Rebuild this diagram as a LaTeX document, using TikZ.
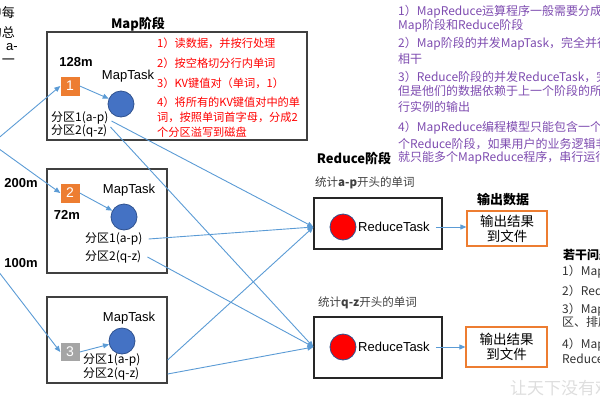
\documentclass[tikz,border=0pt]{standalone}
\usepackage{fontspec}
\setmainfont{Noto Sans CJK SC}
\newfontfamily\arial{Liberation Sans}
\usetikzlibrary{arrows.meta,calc}

\definecolor{arrowblue}{HTML}{5B9BD5}
\definecolor{taskblue}{HTML}{4472C4}
\definecolor{taskedge}{HTML}{2F528F}
\definecolor{boxorange}{HTML}{ED7D31}
\definecolor{boxgray}{HTML}{A5A5A5}
\definecolor{boxline}{HTML}{404040}
\definecolor{notepurple}{HTML}{7E4CB0}

\tikzset{
  stagebox/.style={draw=boxline, line width=1.2pt, inner sep=0},
  reducebox/.style={draw=black!85, line width=1.2pt, inner sep=0},
  tasknode/.style={circle, draw=taskedge, line width=0.8pt, fill=taskblue, minimum size=26, inner sep=0},
  reducenode/.style={tasknode, fill=red},
  splitnum/.style={fill=boxorange, text=white, minimum size=19, inner sep=0, font=\arial\fontsize{14}{14}\selectfont},
  outbox/.style={draw=boxorange, line width=1.2pt, fill=white, align=center, inner sep=0, font=\fontsize{13.5}{15}\selectfont},
  flow/.style={draw=arrowblue, line width=0.9pt, -{Triangle[length=6pt,width=5pt]}},
  tasklabel/.style={inner sep=0, font=\arial\fontsize{13}{13}\selectfont},
  partlabel/.style={anchor=west, inner sep=0, font=\fontsize{12}{12}\selectfont},
  sizelabel/.style={inner sep=0, font=\arial\bfseries\fontsize{13}{13}\selectfont},
  stagetitle/.style={inner sep=0, font=\bfseries\fontsize{13}{13}\selectfont},
  steptext/.style={anchor=west, inner sep=0, text=red, font=\fontsize{11.2}{11.2}\selectfont},
  notetext/.style={anchor=west, inner sep=0, text=notepurple, font=\fontsize{12}{12}\selectfont},
  counttext/.style={anchor=west, inner sep=0, text=black!75, font=\fontsize{11.5}{11.5}\selectfont},
  issuetext/.style={anchor=west, inner sep=0, text=black!80, font=\fontsize{12}{12}\selectfont},
}

\begin{document}
\begin{tikzpicture}[x=1pt, y=-1pt]
  \useasboundingbox (0,0) rectangle (600,400);
  \clip (0,0) rectangle (600,400);

  % cut-off input text on the left
  \node[anchor=east, inner sep=0, font=\fontsize{13}{13}\selectfont] (cut1) at (15,13) {中每};
  \node[anchor=east, inner sep=0, font=\fontsize{13}{13}\selectfont] (cut2) at (15,32) {的总};
  \node[anchor=east, inner sep=0, font=\arial\fontsize{13}{13}\selectfont] (cut3) at (18,47) {a-};
  \node[anchor=east, inner sep=0, font=\fontsize{13}{13}\selectfont] (cut4) at (15,62) {一};

  \node[sizelabel] (size200) at (21,183) {200m};
  \node[sizelabel] (size100) at (21,263) {100m};

  % Map stage
  \node[stagetitle] (maptitle) at (138,24) {Map阶段};

  \node[stagebox, minimum width=260, minimum height=108] (mbox1) at (177,86) {};
  \node[stagebox, minimum width=120, minimum height=104] (mbox2) at (107,221) {};
  \node[stagebox, minimum width=120, minimum height=86] (mbox3) at (107,340) {};

  \node[sizelabel] (size128) at (76,62) {128m};
  \node[sizelabel] (size72) at (67,215) {72m};

  \node[splitnum] (sq1) at (70,86) {1};
  \node[splitnum] (sq2) at (70,193) {2};
  \node[splitnum, fill=boxgray, minimum height=18] (sq3) at (70,352) {3};

  \node[tasklabel] (mt1) at (128,76) {MapTask};
  \node[tasklabel] (mt2) at (129,190) {MapTask};
  \node[tasklabel] (mt3) at (129,318) {MapTask};

  \node[tasknode] (mc1) at (121,104) {};
  \node[tasknode] (mc2) at (124,217) {};
  \node[tasknode] (mc3) at (122,341) {};

  \node[partlabel] (p11) at (51,118) {分区1(a-p)};
  \node[partlabel] (p12) at (51,131) {分区2(q-z)};
  \node[partlabel] (p21) at (85,239) {分区1(a-p)};
  \node[partlabel] (p22) at (85,257) {分区2(q-z)};
  \node[partlabel] (p31) at (83,360) {分区1(a-p)};
  \node[partlabel] (p32) at (83,374) {分区2(q-z)};

  \foreach \y/\t [count=\i] in {43/{1）读数据，并按行处理}, 63/{2）按空格切分行内单词},
      83/{3）KV键值对（单词，1）}, 102/{4）将所有的KV键值对中的单},
      117/{词，按照单词首字母，分成2}, 132/{个分区溢写到磁盘}}
    \node[steptext] (step\i) at (157,\y) {\t};

  % Reduce stage
  \node[stagetitle] (redtitle) at (354,158) {Reduce阶段};
  \node[counttext] (cnt1) at (315,183) {统计\textbf{a-p}开头的单词};
  \node[counttext] (cnt2) at (318,303) {统计\textbf{q-z}开头的单词};

  \node[reducebox, minimum width=128, minimum height=51] (rbox1) at (378,223.5) {};
  \node[reducebox, minimum width=128, minimum height=61] (rbox2) at (378,347.5) {};

  \node[reducenode] (rc1) at (343,227) {};
  \node[reducenode] (rc2) at (343,347) {};
  \node[tasklabel, anchor=west] (rt1) at (358,227) {ReduceTask};
  \node[tasklabel, anchor=west] (rt2) at (358,347) {ReduceTask};

  % output
  \node[stagetitle] (outtitle) at (503,200) {输出数据};
  \node[outbox, minimum width=80, minimum height=35] (out1) at (507,228.5) {输出结果\\到文件};
  \node[outbox, minimum width=81, minimum height=40] (out2) at (506.5,347) {输出结果\\到文件};

  % notes
  \foreach \y/\t [count=\i] in {12/{1）MapReduce运算程序一般需要分成2个阶段：},
      26/{Map阶段和Reduce阶段},
      44/{2）Map阶段的并发MapTask，完全并行运行，互不},
      59/{相干},
      77/{3）Reduce阶段的并发ReduceTask，完全互不相干，},
      92/{但是他们的数据依赖于上一个阶段的所有MapTask并},
      107/{行实例的输出},
      128/{4）MapReduce编程模型只能包含一个Map阶段和一},
      144/{个Reduce阶段，如果用户的业务逻辑非常复杂，那},
      158/{就只能多个MapReduce程序，串行运行}}
    \node[notetext] (note\i) at (398,\y) {\t};

  \node[anchor=west, inner sep=0, font=\bfseries\fontsize{12}{12}\selectfont] (issuetitle) at (563,255) {若干问题细节};
  \foreach \y/\t [count=\i] in {272/{1）MapTask如何工作}, 291/{2）ReduceTask如何工作},
      310/{3）MapTask如何控制分}, 322/{区、排序等},
      345/{4）MapTask和}, 359/{ReduceTask之间如何衔接}}
    \node[issuetext] (issue\i) at (562,\y) {\t};

  \node[anchor=west, inner sep=0, text=black!13, font=\fontsize{17}{17}\selectfont] (mark) at (510,388) {让天下没有难学的技术};

  % connectors
  \coordinate (in1) at (-5,141);
  \coordinate (in2) at (-5,146);
  \coordinate (in3) at (-5,267);
  \coordinate (rin1) at (rbox1.west |- rc1.center);
  \coordinate (rin2) at (rbox2.west |- rc2.center);

  \draw[flow] (in1) -- (sq1.west);
  \draw[flow] (in2) -- (sq2.west);
  \draw[flow] (in3) -- (sq3.west);

  \draw[flow] (sq1.east) -- (mc1);
  \draw[flow] (sq2.east) -- (mc2);
  \draw[flow] (sq3.east) -- (mc3);

  \draw[flow] ([xshift=3pt,yshift=-3pt]p11.east) -- (rin1);
  \draw[flow] ([xshift=3pt,yshift=4pt]p12.east) -- (rin2);
  \draw[flow] ([xshift=6pt]p21.east) -- (rin1);
  \draw[flow] ([xshift=6pt]p22.east) -- (rin2);
  \draw[flow] (p31.east -| mbox3.east) -- (rin1);
  \draw[flow] (p32.east -| mbox3.east) -- (rin2);

  \draw[flow] ([xshift=6pt]rt1.east) -- (rt1.east -| out1.west);
  \draw[flow] ([xshift=6pt]rt2.east) -- (rt2.east -| out2.west);
\end{tikzpicture}
\end{document}
